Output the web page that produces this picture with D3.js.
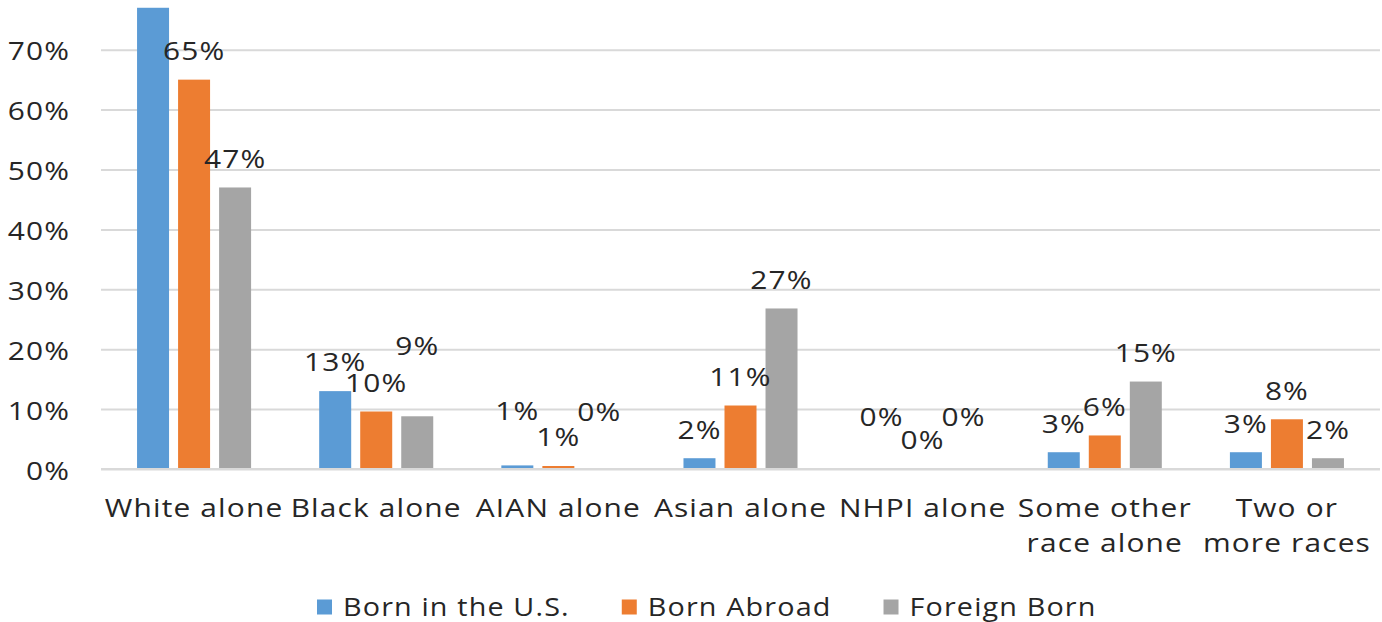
<html>
<head>
  <script src="https://cdn.jsdelivr.net/npm/d3@7/dist/d3.min.js"></script>
  <style>
    body { margin: 0; background: #fff; }
    text { font-family: "Open Sans", sans-serif; fill: #262626; }
  </style>
</head>
<body>
  <svg id="container" width="1382" height="622"></svg>
<script>
    const categories = ['White alone', 'Black alone', 'AIAN alone', 'Asian alone', 'NHPI alone', 'Some other race alone', 'Two or more races'];
    const tickLabels = [['White alone'], ['Black alone'], ['AIAN alone'], ['Asian alone'], ['NHPI alone'], ['Some other', 'race alone'], ['Two or', 'more races']];
    const seriesNames = ['Born in the U.S.', 'Born Abroad', 'Foreign Born'];
    const bornUS = [0.77, 0.13, 0.006, 0.018, 0.001, 0.028, 0.028];
    const bornAbroad = [0.65, 0.096, 0.005, 0.106, 0.001, 0.056, 0.083];
    const foreignBorn = [0.47, 0.088, 0.001, 0.268, 0.001, 0.146, 0.018];
    const yTicks = [0, 0.1, 0.2, 0.3, 0.4, 0.5, 0.6, 0.7];

    const colors = ['#5b9bd5', '#ed7d31', '#a5a5a5'];
    // labels Excel pushed further up (px above the usual spot)
    const labelLift = {'Black alone|Foreign Born': 42, 'AIAN alone|Born in the U.S.': 26, 'AIAN alone|Foreign Born': 28,
                       'NHPI alone|Born in the U.S.': 23, 'NHPI alone|Foreign Born': 23};
    const stretch = 1.15; // the original text is drawn wide

    const values = [bornUS, bornAbroad, foreignBorn];
    const rows = [];
    categories.forEach((c, i) => {
      seriesNames.forEach((s, j) => rows.push({cat: c, series: s, value: values[j][i], color: colors[j]}));
    });

    const svg = d3.select('#container');
    const left = 103, right = 1378, baseY = 469;
    const step10 = 59.9;

    const x0 = d3.scaleBand().domain(categories).range([left, right]);
    const x1 = d3.scaleBand().domain(seriesNames).range([0, x0.bandwidth()])
      .paddingInner(0.22).paddingOuter(0.83);
    const y = d3.scaleLinear().domain([0, 0.8]).range([baseY, baseY - 8 * step10]);
    const pct = d3.format('.0%');

    // gridlines
    svg.append('g')
      .attr('transform', `translate(${left - 2}, 0)`)
      .call(d3.axisLeft(y).tickValues(yTicks).tickSize(-(right - left + 4)).tickFormat(''))
      .call(g => g.select('.domain').remove())
      .call(g => g.selectAll('line').attr('stroke', '#d9d9d9').attr('stroke-width', 2));

    // y labels
    svg.append('g')
      .attr('transform', 'translate(70, 0)')
      .call(d3.axisLeft(y).tickValues(yTicks).tickSize(0).tickPadding(0).tickFormat(pct))
      .call(g => g.select('.domain').remove())
      .call(g => g.selectAll('text')
        .attr('x', 0).attr('dy', null)
        .attr('dominant-baseline', 'central')
        .attr('transform', `scale(${stretch}, 1)`)
        .attr('font-size', 26).attr('letter-spacing', 1)
        .attr('font-family', '"Open Sans", sans-serif').attr('fill', '#262626'));

    // bars
    svg.append('g').selectAll('rect')
      .data(rows)
      .enter()
      .append('rect')
      .attr('x', d => x0(d.cat) + x1(d.series))
      .attr('y', d => y(d.value))
      .attr('width', x1.bandwidth())
      .attr('height', d => baseY - y(d.value))
      .attr('fill', d => d.color);

    // x axis line
    svg.append('line')
      .attr('x1', left - 2).attr('x2', right + 2)
      .attr('y1', baseY).attr('y2', baseY)
      .attr('stroke', '#d9d9d9').attr('stroke-width', 2);

    // data labels (the one above the plot top is clipped in the original)
    svg.append('g').selectAll('text')
      .data(rows.filter(d => y(d.value) - 29 > 12))
      .enter()
      .append('text')
      .attr('transform', d => `translate(${x0(d.cat) + x1(d.series) + x1.bandwidth() / 2}, ${y(d.value) - 29 - (labelLift[d.cat + '|' + d.series] || 0)}) scale(${stretch}, 1)`)
      .attr('text-anchor', 'middle')
      .attr('dy', '0.36em')
      .attr('font-size', 26)
      .attr('letter-spacing', 1)
      .text(d => pct(d.value));

    // category labels
    const catG = svg.append('g').selectAll('text')
      .data(categories)
      .enter()
      .append('text')
      .attr('transform', d => `translate(${x0(d) + x0.bandwidth() / 2}, 508) scale(${stretch}, 1)`)
      .attr('text-anchor', 'middle')
      .attr('font-size', 26)
      .attr('letter-spacing', 1);
    catG.selectAll('tspan')
      .data((d, i) => tickLabels[i])
      .enter()
      .append('tspan')
      .attr('x', 0)
      .attr('dy', (d, i) => i === 0 ? '0.36em' : 35)
      .text(d => d);

    // legend
    const legend = svg.append('g').attr('transform', 'translate(317, 607)');
    let lx = 0;
    seriesNames.forEach((s, i) => {
      legend.append('rect')
        .attr('x', lx).attr('y', -7.5)
        .attr('width', 15).attr('height', 15)
        .attr('fill', colors[i]);
      const t = legend.append('text')
        .attr('transform', `translate(${lx + 26}, 0) scale(${stretch}, 1)`)
        .attr('dy', '0.36em')
        .attr('font-size', 25)
        .attr('letter-spacing', 1)
        .text(s);
      lx += 26 + t.node().getComputedTextLength() * stretch + 52;
    });
</script>
</body>
</html>
